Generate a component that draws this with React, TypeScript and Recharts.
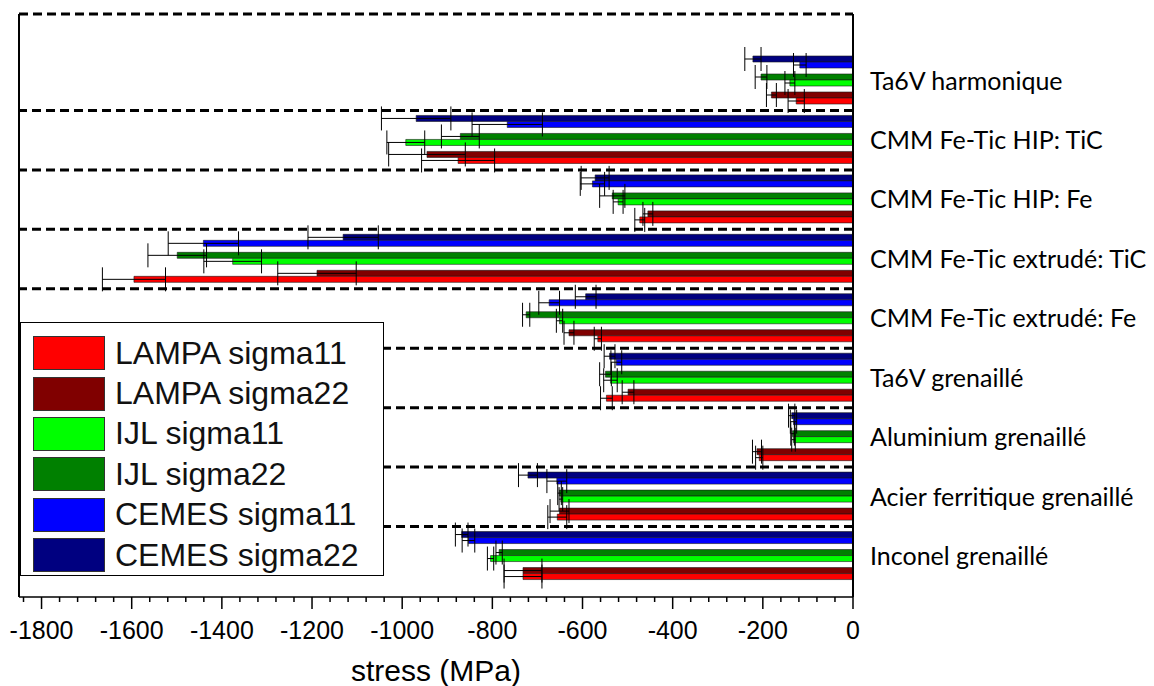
import { Bar, BarChart, ErrorBar, ReferenceLine, XAxis, YAxis } from 'recharts';

// Residual stress per sample, three labs, two directions each.
const CATEGORIES = [
  'Ta6V harmonique',
  'CMM Fe-Tic HIP: TiC',
  'CMM Fe-Tic HIP: Fe',
  'CMM Fe-Tic extrudé: TiC',
  'CMM Fe-Tic extrudé: Fe',
  'Ta6V grenaillé',
  'Aluminium grenaillé',
  'Acier ferritique grenaillé',
  'Inconel grenaillé',
];

const LAMPA_S11 = [-126, -876, -473, -1595, -566, -547, -208, -656, -732];
const LAMPA_S11_ERR = [18, 81, 11, 70, 8, 13, 8, 21, 42];
const LAMPA_S22 = [-181, -945, -455, -1189, -630, -499, -213, -651, -732];
const LAMPA_S22_ERR = [11, 85, 11, 87, 11, 13, 10, 21, 42];
const IJL_S11 = [-140, -992, -521, -1376, -651, -538, -132, -648, -804];
const IJL_S11_ERR = [11, 42, 11, 64, 7, 15, 4, 4, 7];
const IJL_S22 = [-204, -871, -534, -1499, -725, -549, -134, -651, -785];
const IJL_S22_ERR = [13, 42, 28, 65, 8, 13, 4, 4, 7];
const CEMES_S11 = [-118, -767, -578, -1441, -674, -525, -132, -657, -853];
const CEMES_S11_ERR = [14, 78, 27, 78, 23, 12, 7, 22, 14];
const CEMES_S22 = [-222, -969, -572, -1131, -593, -540, -136, -721, -868];
const CEMES_S22_ERR = [18, 77, 31, 78, 23, 12, 7, 21, 14];

const SERIES = [
  { key: 'lampa11', name: 'LAMPA sigma11', color: '#FF0000', values: LAMPA_S11, errors: LAMPA_S11_ERR },
  { key: 'lampa22', name: 'LAMPA sigma22', color: '#800000', values: LAMPA_S22, errors: LAMPA_S22_ERR },
  { key: 'ijl11', name: 'IJL sigma11', color: '#00FF00', values: IJL_S11, errors: IJL_S11_ERR },
  { key: 'ijl22', name: 'IJL sigma22', color: '#008000', values: IJL_S22, errors: IJL_S22_ERR },
  { key: 'cemes11', name: 'CEMES sigma11', color: '#0000FF', values: CEMES_S11, errors: CEMES_S11_ERR },
  { key: 'cemes22', name: 'CEMES sigma22', color: '#000080', values: CEMES_S22, errors: CEMES_S22_ERR },
];

// top -> bottom inside a category; null = empty slot between lab pairs
const BAR_ORDER = ['cemes22', 'cemes11', null, 'ijl22', 'ijl11', null, 'lampa22', 'lampa11'];

const X_DOMAIN: [number, number] = [-1850, 0];
const X_TICKS: number[] = [];
for (let v = -1840; v <= 0; v += 40) X_TICKS.push(v);

const data = CATEGORIES.map((name, i) => {
  const row: Record<string, string | number> = { name };
  SERIES.forEach((s) => {
    row[s.key] = s.values[i];
    row[s.key + 'Err'] = s.errors[i];
  });
  return row;
});

const DASH = { stroke: '#000', strokeWidth: 3, strokeDasharray: '9 5' };

function StressTick({ x, y, payload }: any) {
  const v = payload.value;
  const major = v % 200 === 0;
  return (
    <g>
      <line x1={x} x2={x} y1={y} y2={y + (major ? 12 : 5)} stroke="#000" strokeWidth={1.5} />
      {major && (
        <text x={x} y={y + 42} textAnchor="middle" fontSize={25} fill="#000">
          {v}
        </text>
      )}
    </g>
  );
}

function LegendBox() {
  return (
    <div
      style={{
        position: 'absolute',
        left: 20,
        top: 322,
        width: 364,
        height: 254,
        background: '#fff',
        border: '1px solid #000',
        paddingTop: 10,
        boxSizing: 'border-box',
      }}
    >
      {SERIES.map((s) => (
        <div key={s.key} style={{ display: 'flex', alignItems: 'center', height: 40.4 }}>
          <div
            style={{
              marginLeft: 12,
              width: 72,
              height: 34,
              background: s.color,
              border: '1px solid #333',
              boxSizing: 'border-box',
              flexShrink: 0,
            }}
          />
          <span style={{ marginLeft: 10, fontSize: 32, color: '#111', whiteSpace: 'nowrap' }}>{s.name}</span>
        </div>
      ))}
    </div>
  );
}

export default function App() {
  const byKey = Object.fromEntries(SERIES.map((s) => [s.key, s]));
  return (
    <div
      style={{
        position: 'absolute',
        left: 0,
        top: 0,
        width: 1154,
        height: 686,
        background: '#fff',
        fontFamily: '"Liberation Sans", Arial, sans-serif',
      }}
    >
      <BarChart
        width={1154}
        height={686}
        data={data}
        layout="vertical"
        margin={{ top: 13, right: 0, bottom: 0, left: 19 }}
        barGap={0}
        barCategoryGap={5}
      >
        <XAxis
          type="number"
          domain={X_DOMAIN}
          ticks={X_TICKS}
          interval={0}
          allowDataOverflow
          tickLine={false}
          tickSize={0}
          tickMargin={0}
          tick={<StressTick />}
          axisLine={{ stroke: '#000', strokeWidth: 1.5 }}
          height={89}
          label={{ value: 'stress (MPa)', position: 'insideBottom', offset: 5, fontSize: 30, fill: '#000' }}
        />
        <XAxis
          xAxisId="top"
          orientation="top"
          type="number"
          domain={X_DOMAIN}
          height={1}
          tick={false}
          tickLine={false}
          axisLine={DASH}
        />
        <YAxis
          type="category"
          dataKey="name"
          orientation="right"
          width={301}
          interval={0}
          axisLine={{ stroke: '#000', strokeWidth: 2 }}
          tickLine={false}
          tickSize={0}
          tickMargin={17}
          tick={{ fill: '#000', fontSize: 25, fontFamily: 'Lato' }}
          padding={{ top: 37, bottom: 11 }}
        />
        <ReferenceLine x={X_DOMAIN[0]} stroke="#000" strokeWidth={2} />
        {CATEGORIES.slice(0, -1).map((c) => (
          <ReferenceLine key={c} y={c} position="end" {...DASH} />
        ))}
        {BAR_ORDER.map((k, i) =>
          k ? (
            <Bar
              key={k}
              dataKey={k}
              name={byKey[k].name}
              fill={byKey[k].color}
              stroke="#1a1a1a"
              strokeWidth={0.6}
              isAnimationActive={false}
            >
              <ErrorBar dataKey={k + 'Err'} direction="x" width={12} stroke="#000" strokeWidth={1} />
            </Bar>
          ) : (
            <Bar key={'gap' + i} dataKey={'gap' + i} isAnimationActive={false} />
          ),
        )}
      </BarChart>
      <LegendBox />
    </div>
  );
}
